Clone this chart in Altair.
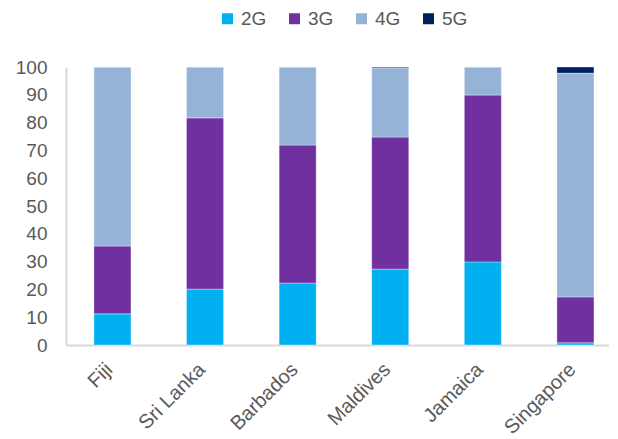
import altair as alt
import pandas as pd

countries = ["Fiji", "Sri Lanka", "Barbados", "Maldives", "Jamaica", "Singapore"]
techs = ["2G", "3G", "4G", "5G"]
g2 = [11.2, 20.1, 22.3, 27.3, 29.9, 0.8]
g3 = [24.4, 61.6, 49.6, 47.5, 60.0, 16.5]
g4 = [64.4, 18.3, 28.1, 24.9, 10.1, 80.5]
g5 = [0.0, 0.0, 0.0, 0.3, 0.0, 2.2]
colors = ["#00B0F0", "#7030A0", "#95B3D7", "#002060"]

rows = []
for i, c in enumerate(countries):
    for j, (t, vals) in enumerate(zip(techs, [g2, g3, g4, g5])):
        rows.append({"country": c, "tech": t, "value": vals[i], "ord": j})
df = pd.DataFrame(rows)

FONT = "Liberation Sans"
chart = alt.Chart(df).mark_bar(stroke="white", strokeOpacity=0.35, strokeWidth=1).encode(
    x=alt.X("country:N", sort=countries, title=None,
            scale=alt.Scale(paddingInner=0.6, paddingOuter=0.232, align=0.65),
            axis=alt.Axis(labelAngle=-45, labelFontSize=20, labelColor="#595959",
                          labelFont=FONT, ticks=False, domainColor="#d9d9d9",
                          domainWidth=2, labelPadding=14, labelOffset=-10)),
    y=alt.Y("value:Q", stack="zero", title=None,
            scale=alt.Scale(domain=[0, 100], nice=False),
            axis=alt.Axis(values=list(range(0, 101, 10)), labelFontSize=19, labelColor="#595959",
                          labelFont=FONT, ticks=False, grid=False,
                          domainColor="#d9d9d9", domainWidth=2, labelPadding=19)),
    color=alt.Color("tech:N", sort=techs, title=None,
                    scale=alt.Scale(domain=techs, range=colors),
                    legend=alt.Legend(orient="none", direction="horizontal", legendX=152, legendY=-58,
                                      labelFontSize=19, labelColor="#595959", labelFont=FONT,
                                      symbolType="square", symbolSize=121, symbolStrokeWidth=0,
                                      columnPadding=18, labelOffset=4)),
    order=alt.Order("ord:Q", sort="ascending"),
).properties(width=543, height=278, padding={"left": 7, "top": 1, "right": 0, "bottom": 0}
).configure_view(stroke=None)

chart.save("out.html", embed_options={"renderer": "svg", "actions": False})
